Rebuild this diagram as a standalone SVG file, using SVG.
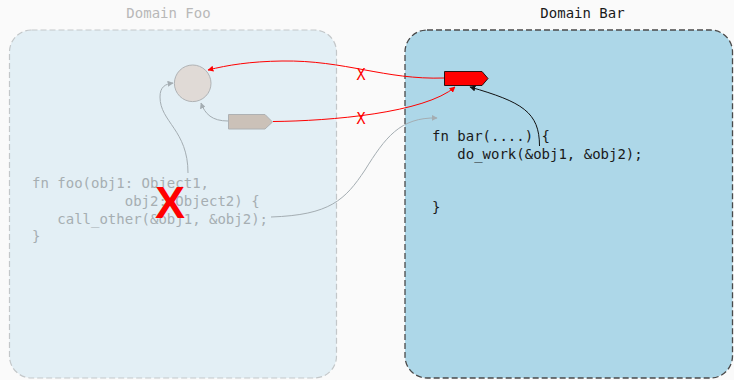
<svg xmlns="http://www.w3.org/2000/svg" width="734" height="380" viewBox="0 0 734 380">
  <style>
    .mono { font-family: "DejaVu Sans Mono", "Liberation Mono", monospace; font-size: 14px; }
    .faded { fill: #a6aeb2; }
    .dark { fill: #1a1a1a; }
    .title-faded { fill: #b8b8b8; }
    .conn { fill: none; stroke-width: 1; }
    .gray { stroke: #a4adb2; }
    .red { stroke: #ff0000; }
    .black { stroke: #111111; }
    .xmark { font-family: "DejaVu Sans Mono", monospace; font-size: 15px; fill: #ff0000; }
  </style>
  <defs>
    <marker id="ah-gray" viewBox="0 0 10 10" refX="9" refY="5" markerWidth="6" markerHeight="6" orient="auto" markerUnits="userSpaceOnUse">
      <path d="M0,0 L10,5 L0,10 Z" fill="#a4adb2"/>
    </marker>
    <marker id="ah-red" viewBox="0 0 10 10" refX="9" refY="5" markerWidth="6" markerHeight="6" orient="auto" markerUnits="userSpaceOnUse">
      <path d="M0,0 L10,5 L0,10 Z" fill="#ff0000"/>
    </marker>
    <marker id="ah-black" viewBox="0 0 10 10" refX="9" refY="5" markerWidth="6" markerHeight="6" orient="auto" markerUnits="userSpaceOnUse">
      <path d="M0,0 L10,5 L0,10 Z" fill="#111111"/>
    </marker>
  </defs>

  <rect x="0" y="0" width="734" height="380" fill="#fafafa"/>

  <g id="domain-foo">
    <rect x="9.5" y="30" width="327" height="348" rx="22" ry="22" fill="#e3eff5" stroke="#c3c7c9" stroke-width="1.2" stroke-dasharray="6,3"/>
    <text class="mono title-faded" x="168.5" y="18" text-anchor="middle">Domain Foo</text>
  </g>

  <g id="domain-bar">
    <rect x="405" y="30" width="327.5" height="348" rx="22" ry="22" fill="#add7e8" stroke="#4a4a4a" stroke-width="1.3" stroke-dasharray="6,3"/>
    <text class="mono dark" x="582.5" y="18" text-anchor="middle">Domain Bar</text>
  </g>

  <g id="foo-code">
    <text class="mono faded" xml:space="preserve"><tspan x="32" y="188">fn foo(obj1: Object1,</tspan><tspan x="32" y="206">           obj2: Object2) {</tspan><tspan x="32" y="223.5">   call_other(&amp;obj1, &amp;obj2);</tspan><tspan x="32" y="241">}</tspan></text>
  </g>

  <g id="bar-code">
    <text class="mono dark" xml:space="preserve"><tspan x="432" y="141">fn bar(....) {</tspan><tspan x="432" y="159">   do_work(&amp;obj1, &amp;obj2);</tspan><tspan x="432" y="212">}</tspan></text>
  </g>

  <g id="object-circle">
    <circle cx="192.7" cy="83.3" r="18.3" fill="#e0dad6" stroke="#b0b3b5" stroke-width="1"/>
  </g>

  <g id="gray-ref">
    <path d="M228.5,114.5 H265 L272.5,122 L265,129 H228.5 Z" fill="#cbc1b8" stroke="#aeb1b3" stroke-width="1"/>
  </g>

  <g id="red-ref">
    <path d="M444.5,71.5 H482 L488,78.5 L482,85.5 H444.5 Z" fill="#ff0000" stroke="#2a1010" stroke-width="1"/>
  </g>

  <g id="connectors">
    <path class="conn gray" d="M188,173 C188,130 160,122 160,97 C160,87 165,84 173,83" marker-end="url(#ah-gray)"/>
    <path class="conn gray" d="M228,121 C212,121 205,114 201,103" marker-end="url(#ah-gray)"/>
    <path class="conn gray" d="M271,217 C330,215 345,200 365,170 C385,138 400,117 437,118" marker-end="url(#ah-gray)"/>
    <path class="conn red" d="M444,78 C385,80 345,60 282,61 C250,61.5 228,65 208,70" marker-end="url(#ah-red)"/>
    <path class="conn red" d="M273,121.5 C330,121 425,113 455,87" marker-end="url(#ah-red)"/>
    <path class="conn black" d="M539.5,146 C539.5,112 522,102 470,87" marker-end="url(#ah-black)"/>
  </g>

  <g id="marks">
    <text class="xmark" x="361" y="79.5" text-anchor="middle">X</text>
    <text class="xmark" x="361" y="123.5" text-anchor="middle">X</text>
    <text x="170" y="218" text-anchor="middle" font-family="Liberation Sans, Arial, sans-serif" font-weight="bold" font-size="45" fill="#ff0000">X</text>
  </g>
</svg>
